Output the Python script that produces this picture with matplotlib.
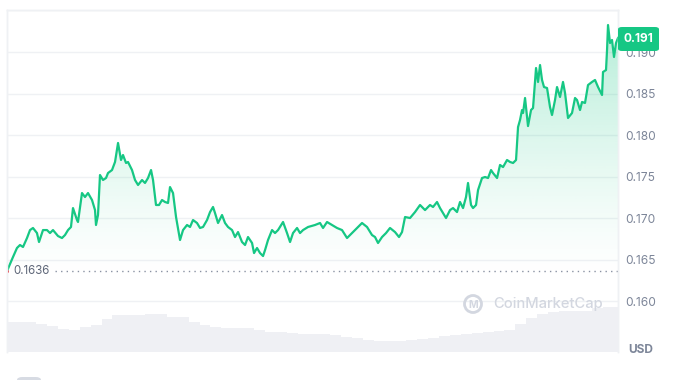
import matplotlib
matplotlib.use("Agg")
import matplotlib.pyplot as plt
import numpy as np
from matplotlib.patches import FancyBboxPatch, Ellipse, Polygon

plt.rcParams['font.family'] = ['Inter', 'DejaVu Sans']

# ---- data (hours since 19 Mar 00:00, price in USD) ----
hours = [-9.56, -7.91, -6.81, -5.98, -5.15, -4.05, -3.22, -2.40, -1.30, -0.74, 0.36, 1.46, 2.29, 3.11,
         4.49, 5.59, 6.42, 7.25, 8.07, 8.62, 9.73, 10.00, 11.10, 11.93, 12.76, 13.86, 14.69, 14.96,
         15.51, 16.06, 16.89, 17.72, 18.27, 19.37, 20.20, 21.03, 21.85, 22.40, 23.23, 23.78, 24.88,
         25.71, 26.54, 27.64, 28.46, 29.29, 30.12, 30.67, 31.49, 32.32, 33.15, 33.98, 34.80, 35.35,
         36.18, 37.01, 38.11, 38.94, 40.04, 40.86, 41.69, 42.79, 43.62, 44.45, 45.55, 46.38, 47.20,
         47.75, 48.58, 49.68, 50.51, 51.33, 52.44, 53.26, 54.09, 55.19, 56.02, 56.84, 57.95, 58.50,
         59.32, 60.15, 60.98, 61.53, 62.35, 63.46, 64.28, 65.11, 66.49, 67.59, 68.42, 69.24, 70.35,
         71.17, 72.00, 73.38, 75.30, 76.68, 77.51, 78.61, 79.99, 81.36, 82.74, 84.12, 85.50, 86.87,
         88.25, 89.63, 91.00, 91.83, 92.66, 93.76, 94.86, 95.96, 97.34, 98.44, 99.27, 100.10, 101.47,
         102.85, 104.23, 105.61, 106.98, 107.81, 108.91, 109.74, 110.57, 111.39, 112.50, 113.32,
         114.42, 115.25, 116.08, 116.90, 117.45, 118.28, 118.83, 119.66, 120.21, 121.31, 122.14,
         122.97, 123.79, 124.34, 125.45, 126.27, 127.10, 128.20, 129.03, 129.86, 130.68, 131.23,
         131.78, 132.33, 132.61, 133.16, 133.71, 133.98, 134.81, 135.36, 136.19, 136.74, 137.29,
         137.84, 138.39, 139.22, 140.04, 140.59, 141.42, 141.97, 142.80, 143.62, 144.18, 145.00,
         146.10, 146.93, 147.48, 148.31, 148.86, 149.68, 150.51, 151.61, 152.44, 153.27, 154.37,
         154.64, 155.47, 155.75, 156.02, 156.57, 157.12, 157.67, 158.22, 158.77]
prices = [0.16361, 0.16530, 0.16639, 0.16675, 0.16651, 0.16759, 0.16855, 0.16880, 0.16819, 0.16711,
          0.16855, 0.16855, 0.16819, 0.16855, 0.16783, 0.16759, 0.16795, 0.16855, 0.16892, 0.17120,
          0.16976, 0.16952, 0.17301, 0.17253, 0.17301, 0.17217, 0.17096, 0.16916, 0.17036, 0.17518,
          0.17458, 0.17482, 0.17542, 0.17578, 0.17675, 0.17904, 0.17699, 0.17759, 0.17663, 0.17675,
          0.17578, 0.17458, 0.17398, 0.17458, 0.17422, 0.17482, 0.17578, 0.17458, 0.17157, 0.17157,
          0.17217, 0.17193, 0.17181, 0.17373, 0.17301, 0.17012, 0.16735, 0.16855, 0.16916, 0.16892,
          0.16976, 0.16940, 0.16880, 0.16892, 0.16976, 0.17072, 0.17133, 0.17060, 0.16940, 0.17036,
          0.16940, 0.16892, 0.16855, 0.16771, 0.16831, 0.16711, 0.16675, 0.16771, 0.16699, 0.16578,
          0.16639, 0.16578, 0.16542, 0.16614, 0.16735, 0.16855, 0.16819, 0.16855, 0.16952, 0.16819,
          0.16711, 0.16819, 0.16880, 0.16819, 0.16855, 0.16892, 0.16916, 0.16940, 0.16880, 0.16952,
          0.16916, 0.16880, 0.16855, 0.16759, 0.16819, 0.16880, 0.16940, 0.16892, 0.16795, 0.16771,
          0.16699, 0.16771, 0.16819, 0.16880, 0.16831, 0.16771, 0.16831, 0.17012, 0.17000, 0.17072,
          0.17157, 0.17096, 0.17157, 0.17133, 0.17193, 0.17120, 0.17060, 0.17000, 0.17096, 0.17120,
          0.17072, 0.17193, 0.17120, 0.17253, 0.17422, 0.17157, 0.17120, 0.17157, 0.17337, 0.17482,
          0.17494, 0.17482, 0.17578, 0.17542, 0.17482, 0.17639, 0.17614, 0.17699, 0.17675, 0.17663,
          0.17699, 0.18096, 0.18181, 0.18301, 0.18265, 0.18446, 0.18217, 0.18108, 0.18301, 0.18325,
          0.18807, 0.18639, 0.18843, 0.18663, 0.18578, 0.18566, 0.18337, 0.18241, 0.18422, 0.18578,
          0.18458, 0.18639, 0.18506, 0.18205, 0.18265, 0.18446, 0.18422, 0.18301, 0.18398, 0.18386,
          0.18602, 0.18639, 0.18663, 0.18578, 0.18482, 0.18759, 0.18783, 0.19024, 0.19325, 0.19108,
          0.19145, 0.18940, 0.19108, 0.19169]

vol_hours = list(range(-9, 160, 3))
volumes = [30, 30, 30, 28, 26, 23, 22, 25, 27, 33, 37, 37, 37, 38, 38, 35, 35, 30, 27, 25, 24, 24,
           24, 22, 20, 20, 19, 18, 18, 18, 17, 15, 14, 12, 11, 11, 11, 12, 13, 14, 16, 17, 18, 19,
           20, 21, 22, 28, 34, 38, 40, 41, 41, 41, 44, 45, 45]  # millions USD

open_price = 0.1636
last_label = "0.191"
tick_days = [0, 24, 48, 72, 96, 120, 144]
tick_labels = ["19 Mar", "20 Mar", "21 Mar", "22 Mar", "23 Mar", "24 Mar", "25 Mar"]
y_ticks = [0.160, 0.165, 0.170, 0.175, 0.180, 0.185, 0.190]

GREEN = "#16c784"
GRID = "#eff1f4"
TXT = "#7d8699"
WM = "#d3d7e0"

fig = plt.figure(figsize=(6.8, 3.8), dpi=100)
ax = fig.add_axes([7/680, 28/380, 611/680, 342/380])
xmin, xmax = -9.56, 158.77
ymin, ymax = 0.15386, 0.19506
ax.set_xlim(xmin, xmax)
ax.set_ylim(ymin, ymax)

# grid lines
for yv in y_ticks + [0.195]:
    ax.axhline(yv, color=GRID, lw=1.0, zorder=0)

# gradient fill under line
poly_x = [hours[0]] + hours + [hours[-1]]
poly_y = [ymin] + prices + [ymin]
poly = Polygon(np.column_stack([poly_x, poly_y]), closed=True, facecolor='none', edgecolor='none')
ax.add_patch(poly)
grad = np.linspace(0, 1, 256).reshape(-1, 1)
alpha = np.clip((grad - 0.22) / 0.78, 0, 1) ** 1.3 * 0.32
rgba = np.zeros((256, 1, 4))
rgba[..., 0] = 0x16 / 255
rgba[..., 1] = 0xc7 / 255
rgba[..., 2] = 0x84 / 255
rgba[..., 3] = alpha
im = ax.imshow(rgba, extent=[xmin, xmax, ymin, 0.1935], origin='lower', aspect='auto', zorder=1)
im.set_clip_path(poly)

ax.plot(hours, prices, color=GREEN, lw=1.6, zorder=3, solid_joinstyle='round')

# open price dotted line
ax.plot([3.7, xmax], [open_price, open_price], color="#8a92a3", lw=1.0, ls=(0, (1, 3)), zorder=2)
ax.text(-7.9, open_price, f"{open_price:.4f}", color="#5e6678", fontsize=8.3,
        va='center', ha='left', zorder=4)
ax.plot([hours[0]], [open_price], marker='o', ms=2.2, color="#ea3943", zorder=5, mec='none')

# volume
ax2 = ax.twinx()
ax2.set_ylim(0, 342)
ax2.bar(vol_hours, volumes, width=3.0, color="#eff0f4", linewidth=0, zorder=1)
ax2.set_yticks([])
ax2.set_xlim(xmin, xmax)

for a in (ax, ax2):
    a.spines['bottom'].set_visible(False)
    for s in ['left', 'top', 'right']:
        a.spines[s].set_color(GRID)
        a.spines[s].set_linewidth(1.0)

ax.set_xticks(tick_days)
ax.set_xticklabels(tick_labels)
ax.tick_params(axis='x', length=0, pad=9, labelsize=8.3, labelcolor=TXT)
ax.yaxis.tick_right()
ax.set_yticks(y_ticks)
ax.set_yticklabels([f"{v:.3f}" for v in y_ticks])
ax.tick_params(axis='y', length=0, pad=5, labelsize=8.6, labelcolor=TXT)
ax2.tick_params(axis='both', length=0)
ax2.set_xticks([])

# watermark
fig.patches.append(Ellipse((473/680, 1 - 304/380), 17/680, 17/380, transform=fig.transFigure,
                           facecolor='none', edgecolor=WM, lw=2.0, zorder=10))
fig.text(473/680, 1 - 304.5/380, "M", color=WM, fontsize=7.5, fontweight='bold',
         ha='center', va='center', zorder=11)
fig.text(493/680, 1 - 304/380, "CoinMarketCap", color=WM, fontsize=10.6,
         fontweight='medium', ha='left', va='center', zorder=11)

# USD label
fig.text(628/680, 1 - 350/380, "USD", color="#7d8699", fontsize=8.6, fontweight='bold',
         ha='left', va='center')

# last-price badge
badge = FancyBboxPatch((618/680, 1 - 51/380), 41/680, 24/380,
                       boxstyle="round,pad=0,rounding_size=0.006", transform=fig.transFigure,
                       facecolor=GREEN, edgecolor='none', zorder=20)
fig.patches.append(badge)
fig.text(638.5/680, 1 - 38.5/380, last_label, color='white', fontsize=8.6, fontweight='bold',
         ha='center', va='center', zorder=21)

# small scroll handle at bottom-left
fig.patches.append(FancyBboxPatch((17/680, -4/380), 24/680, 7/380,
                                  boxstyle="round,pad=0,rounding_size=0.008",
                                  transform=fig.transFigure, facecolor="#d7dbe3",
                                  edgecolor='none'))

fig.savefig("out.png", dpi=100)
